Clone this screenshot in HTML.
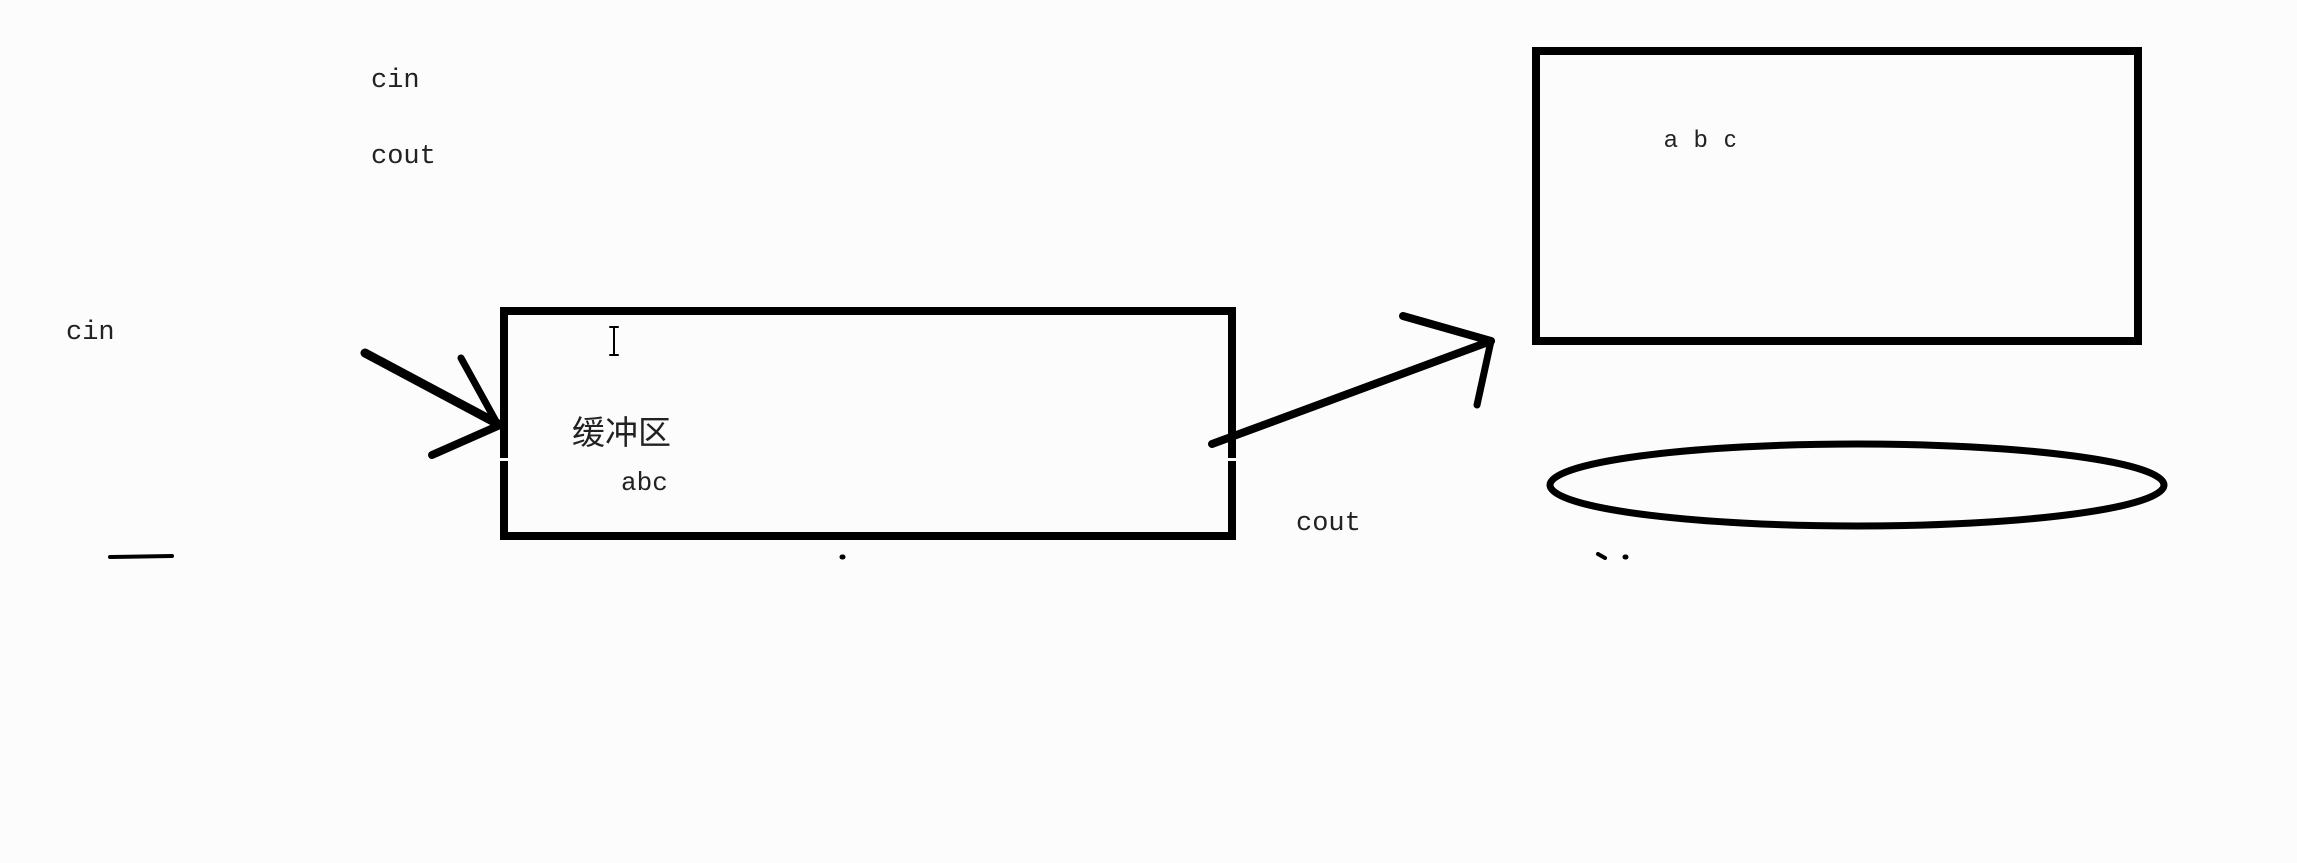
<!DOCTYPE html>
<html><head><meta charset="utf-8"><style>
html,body{margin:0;padding:0;background:#fcfcfc;}
body{width:2297px;height:863px;overflow:hidden;position:relative;}
.t{position:absolute;font-family:"Liberation Mono","Noto Sans CJK SC",monospace;font-size:27px;color:#222;line-height:1;}
</style></head><body>
<svg width="2297" height="863" style="position:absolute;left:0;top:0">
<g stroke="#000" fill="none" stroke-linecap="round">
<rect x="504" y="311" width="728" height="225" stroke-width="8"/>
<rect x="1536" y="51" width="602" height="290" stroke-width="8"/>
<ellipse cx="1857" cy="485" rx="307" ry="41" stroke-width="7"/>
<line x1="365" y1="353" x2="500" y2="425" stroke-width="9"/>
<line x1="461" y1="358" x2="498" y2="425" stroke-width="7"/>
<line x1="432" y1="455" x2="500" y2="425" stroke-width="8"/>
<line x1="1212" y1="444" x2="1491" y2="341" stroke-width="8"/>
<line x1="1403" y1="316" x2="1491" y2="341" stroke-width="8"/>
<line x1="1477" y1="405" x2="1491" y2="341" stroke-width="7"/>
<line x1="110" y1="557" x2="172" y2="556" stroke-width="4"/>
<line x1="842" y1="557" x2="843" y2="557" stroke-width="5"/>
<line x1="1598" y1="554" x2="1605" y2="558" stroke-width="4"/>
<line x1="1625" y1="557" x2="1626" y2="557" stroke-width="5"/>
<line x1="614" y1="327" x2="614" y2="355" stroke-width="2"/>
<line x1="610" y1="327" x2="618" y2="327" stroke-width="2"/>
<line x1="610" y1="355" x2="618" y2="355" stroke-width="2"/>
</g>
<rect x="496" y="458" width="16" height="3" fill="#fcfcfc"/>
<rect x="1226" y="458" width="14" height="3" fill="#fcfcfc"/>
</svg>
<div class="t" style="left:371px;top:68px">cin</div>
<div class="t" style="left:371px;top:144px">cout</div>
<div class="t" style="left:66px;top:320px">cin</div>
<div class="t" style="left:1296px;top:511px">cout</div>
<div class="t" style="left:621px;top:470px;font-size:26px">abc</div>
<div class="t" style="left:572px;top:414px;font-size:33px;font-family:'Noto Sans CJK SC',sans-serif">缓冲区</div>
<div class="t" style="left:1664px;top:128px;font-family:'Liberation Sans',sans-serif;font-size:24px;letter-spacing:5px">a b c</div>
</body></html>
